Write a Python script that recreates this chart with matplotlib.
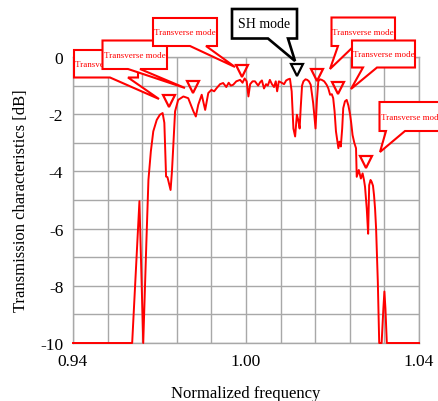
"""
Transmission characteristics vs normalized frequency, with mode callouts
"""

import numpy as np
import matplotlib
matplotlib.use("Agg")
import matplotlib.pyplot as plt
from matplotlib.patches import Polygon

W, H = 438, 402

# curve
freq = [0.9400, 0.9571, 0.9592, 0.9603, 0.9612, 0.9618, 0.9625, 0.9632, 0.9642,
        0.9651, 0.9659, 0.9664, 0.9669, 0.9673, 0.9677, 0.9682, 0.9686, 0.9690,
        0.9695, 0.9704, 0.9719, 0.9733, 0.9748, 0.9755, 0.9762, 0.9772, 0.9782,
        0.9791, 0.9800, 0.9808, 0.9815, 0.9825, 0.9834, 0.9843, 0.9850, 0.9856,
        0.9863, 0.9872, 0.9883, 0.9890, 0.9896, 0.9902, 0.9907, 0.9912, 0.9919,
        0.9926, 0.9935, 0.9941, 0.9946, 0.9952, 0.9958, 0.9963, 0.9969, 0.9975,
        0.9981, 0.9986, 0.9990, 0.9995, 1.0003, 1.0010, 1.0016, 1.0022, 1.0027,
        1.0032, 1.0037, 1.0042, 1.0047, 1.0051, 1.0055, 1.0058, 1.0062, 1.0066,
        1.0072, 1.0077, 1.0082, 1.0087, 1.0094, 1.0101, 1.0105, 1.0109, 1.0114,
        1.0119, 1.0126, 1.0133, 1.0138, 1.0143, 1.0148, 1.0152, 1.0156, 1.0160,
        1.0167, 1.0170, 1.0174, 1.0178, 1.0181, 1.0186, 1.0191, 1.0196, 1.0201,
        1.0204, 1.0208, 1.0213, 1.0218, 1.0220, 1.0226, 1.0232, 1.0237, 1.0241,
        1.0244, 1.0249, 1.0253, 1.0256, 1.0260, 1.0263, 1.0267, 1.0270, 1.0273,
        1.0276, 1.0281, 1.0285, 1.0292, 1.0297, 1.0300, 1.0303, 1.0307, 1.0400]
trans = [-10.0, -10.0, -5.04, -10.0, -6.5, -4.3, -3.3, -2.6, -2.2,
         -2.02, -1.96, -2.3, -4.18, -4.2, -4.4, -4.65, -4.0, -3.08,
         -1.9, -1.5, -1.38, -1.44, -1.9, -2.08, -1.67, -1.32, -1.85,
         -1.26, -1.15, -1.2, -1.09, -0.95, -0.91, -1.05, -0.9, -1.0,
         -0.97, -0.85, -0.8, -0.9, -0.75, -0.85, -1.38, -0.95, -0.85,
         -0.85, -1.0, -0.88, -0.82, -1.1, -0.95, -1.0, -0.8, -0.95,
         -1.05, -0.85, -1.2, -0.85, -0.9, -0.95, -0.82, -0.78, -0.76,
         -1.2, -2.5, -2.78, -2.02, -2.2, -2.5, -1.8, -1.0, -0.85,
         -0.78, -0.8, -0.85, -0.97, -1.6, -2.5, -1.5, -0.85, -0.78,
         -0.8, -0.85, -0.97, -1.1, -1.32, -1.3, -1.44, -1.9, -2.6,
         -3.19, -2.96, -3.13, -2.5, -1.79, -1.55, -1.5, -1.7, -2.02,
         -2.3, -2.73, -3.0, -3.19, -4.19, -3.95, -4.25, -4.07, -4.3,
         -4.54, -5.3, -6.18, -4.48, -4.3, -4.36, -4.5, -4.83, -5.3,
         -6.0, -7.87, -10.0, -10.0, -8.8, -8.2, -8.8, -10.0, -10.0]

# triangle markers (SH mode kept separate)
mark_f = [0.9678, 0.9748, 0.9889, 1.0104, 1.0167, 1.0247]
mark_t = [-1.55, -1.05, -0.5, -0.62, -1.09, -3.66]
sh_f = [1.0047]
sh_t = [-0.45]

# one label per vertical grid line, as printed in the picture
xgrid = np.linspace(0.94, 1.04, 11)
xtick_labels = ["0.94", "", "", "", "", "1.00", "", "", "", "", "1.04"]
ygrid = np.arange(-10, 1, 1)
ytick_labels = ["-10", "", "-8", "", "-6", "", "-4", "", "-2", "", "0"]

# callouts in image pixels: box (x0, y0, x1, y1), tail base (b0, b1), tip
callouts = [
    ((74, 51, 138, 78.5), (110, 128), (159, 100), "Transverse mode", "red"),
    ((102.5, 41.5, 167, 70), (128, 140), (185, 89), "Transverse mode", "red"),
    ((153, 19, 217, 47), (190, 206), (235, 68), "Transverse mode", "red"),
    ((232, 10, 297, 39.5), (268, 288), (295, 62), "SH mode", "black"),
    ((331.5, 18.5, 395, 47), (338, 354), (330, 70), "Transverse mode", "red"),
    ((352, 41.5, 415, 68.5), (363, 377), (351, 90), "Transverse mode", "red"),
    ((379.5, 103, 444, 132), (386, 405), (380, 153), "Transverse mode", "red"),
]

plt.rcParams['font.family'] = ['Liberation Serif', 'DejaVu Serif']

fig = plt.figure(figsize=(W / 100, H / 100), dpi=100)
ax = fig.add_axes([73 / W, 58 / H, 346 / W, 286 / H])

ax.plot(freq, trans, color="#ff0000", lw=1.4, clip_on=False, zorder=3)
ax.plot(mark_f, mark_t, "v", ms=9, mfc="none", mec="#ff0000", mew=1.6, zorder=4)
ax.plot(sh_f, sh_t, "v", ms=9, mfc="none", mec="black", mew=1.6, zorder=4)

ax.set_xlim(0.94, 1.04)
ax.set_ylim(-10, 0)
ax.set_xticks(xgrid)
ax.set_xticklabels(xtick_labels)
ax.set_yticks(ygrid)
ax.set_yticklabels(ytick_labels)
ax.tick_params(length=0, labelsize=12.5, pad=7)
ax.grid(True, color="#a8a8a8", lw=1.0)
for sp in ax.spines.values():
    sp.set_color("#a8a8a8")
    sp.set_linewidth(1.0)

ax.set_xlabel("Normalized frequency", fontsize=12, labelpad=12)
ax.set_ylabel("Transmission characteristics [dB]", fontsize=12, labelpad=8)


def px(x, y):
    return (x / W, 1 - y / H)


for i, (box, base, tip, text, col) in enumerate(callouts):
    x0, y0, x1, y1 = box
    pts = [(x0, y0), (x1, y0), (x1, y1), (base[1], y1), tip, (base[0], y1), (x0, y1)]
    lw = 1.9 if col == "black" else 1.5
    poly = Polygon([px(*p) for p in pts], closed=True, facecolor="white",
                   edgecolor=col, lw=lw, transform=fig.transFigure,
                   zorder=10 + 2 * i, joinstyle="miter")
    fig.add_artist(poly)
    fs = 10 if col == "black" else 6.5
    fig.text((x0 + x1) / 2 / W, 1 - (y0 + y1) / 2 / H, text, color=col,
             fontsize=fs, ha="center", va="center", zorder=11 + 2 * i)

fig.savefig("out.png", dpi=100)
